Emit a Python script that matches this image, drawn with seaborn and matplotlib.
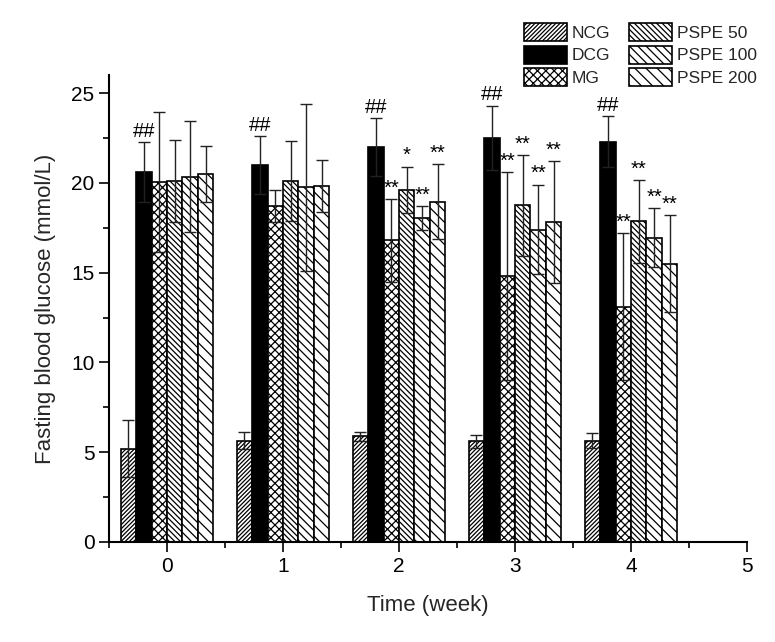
import numpy as np
import pandas as pd
import matplotlib
matplotlib.use("Agg")
import matplotlib.pyplot as plt
import matplotlib.patches as mpatches
from matplotlib.ticker import MultipleLocator
import seaborn as sns

weeks = [0, 1, 2, 3, 4]
groups = ["NCG", "DCG", "MG", "PSPE 50", "PSPE 100", "PSPE 200"]

ncg = [5.2, 5.65, 5.9, 5.6, 5.65]
ncg_err = [1.6, 0.45, 0.25, 0.35, 0.4]
dcg = [20.6, 21.0, 22.0, 22.5, 22.3]
dcg_err = [1.65, 1.6, 1.6, 1.8, 1.4]
mg = [20.05, 18.7, 16.8, 14.8, 13.1]
mg_err = [3.9, 0.9, 2.3, 5.8, 4.1]
pspe50 = [20.1, 20.1, 19.6, 18.75, 17.85]
pspe50_err = [2.3, 2.25, 1.3, 2.8, 2.3]
pspe100 = [20.35, 19.75, 18.05, 17.4, 16.95]
pspe100_err = [3.1, 4.65, 0.65, 2.5, 1.65]
pspe200 = [20.5, 19.85, 18.95, 17.8, 15.5]
pspe200_err = [1.55, 1.45, 2.1, 3.4, 2.7]

sig_dcg = ["##", "##", "##", "##", "##"]
sig_mg = ["", "", "**", "**", "**"]
sig_p50 = ["", "", "*", "**", "**"]
sig_p100 = ["", "", "**", "**", "**"]
sig_p200 = ["", "", "**", "**", "**"]

x_ticks = [0, 1, 2, 3, 4, 5]

values = [ncg, dcg, mg, pspe50, pspe100, pspe200]
errors = [ncg_err, dcg_err, mg_err, pspe50_err, pspe100_err, pspe200_err]
sigs = [[""] * 5, sig_dcg, sig_mg, sig_p50, sig_p100, sig_p200]

rows = []
for g, vals in zip(groups, values):
    for w, v in zip(weeks, vals):
        rows.append({"week": w, "group": g, "value": v})
df = pd.DataFrame(rows)

sns.set_style("ticks")
plt.rcParams["font.family"] = ["Liberation Sans", "DejaVu Sans"]
plt.rcParams["hatch.linewidth"] = 0.9

hatches = ["/" * 8, "", "xxxx", "\\" * 6, "\\" * 4, "\\" * 3]
faces = ["white", "black", "white", "white", "white", "white"]

fig = plt.figure(figsize=(7.75, 6.42), dpi=100)
ax = fig.add_axes([0.1406, 0.1558, 0.8233, 0.7272])

sns.barplot(data=df, x="week", y="value", hue="group", order=weeks,
            hue_order=groups, palette=faces, errorbar=None, width=0.8,
            edgecolor="black", linewidth=1.2, ax=ax, legend=False)

for cont, h, f, errs, sg in zip(ax.containers, hatches, faces, errors, sigs):
    for bar, e, s in zip(cont.patches, errs, sg):
        bar.set_hatch(h)
        bar.set_facecolor(f)
        bar.set_edgecolor("black")
        cx = bar.get_x() + bar.get_width() / 2
        top = bar.get_height()
        ax.errorbar(cx, top, yerr=e, fmt="none", ecolor="#222222",
                    elinewidth=1.0, capsize=4, capthick=1.0, zorder=3)
        if s:
            ax.annotate(s, (cx, top + e), xytext=(0, 1), textcoords="offset points",
                        ha="center", va="bottom", fontsize=14.5, color="black")

ax.set_xlim(-0.5, 5)
ax.set_ylim(0, 26)
ax.set_xticks(x_ticks)
ax.set_xticklabels([str(t) for t in x_ticks])
ax.set_yticks([0, 5, 10, 15, 20, 25])
ax.xaxis.set_minor_locator(MultipleLocator(0.5))
ax.yaxis.set_minor_locator(MultipleLocator(2.5))
ax.tick_params(axis="both", which="major", direction="out", length=7, width=1.2,
               labelsize=15, color="black", labelcolor="black")
ax.tick_params(axis="both", which="minor", direction="out", length=4, width=1.2,
               color="black")
for sp in ["top", "right"]:
    ax.spines[sp].set_visible(False)
for sp in ["left", "bottom"]:
    ax.spines[sp].set_linewidth(1.5)
    ax.spines[sp].set_color("black")

ax.set_xlabel("Time (week)", fontsize=16, labelpad=14)
ax.set_ylabel("Fasting blood glucose (mmol/L)", fontsize=16, labelpad=11)

handles = [mpatches.Patch(facecolor=f, edgecolor="black", hatch=h, linewidth=1.2, label=g)
           for g, f, h in zip(groups, faces, hatches)]
fig.legend(handles=handles, ncol=2, loc="upper left", bbox_to_anchor=(0.66, 0.983),
           frameon=False, fontsize=12.5, handlelength=2.5, handleheight=1.2,
           columnspacing=1.1, handletextpad=0.25, labelspacing=0.28, borderpad=0.2)

fig.savefig("out.png", dpi=100, facecolor="white")
